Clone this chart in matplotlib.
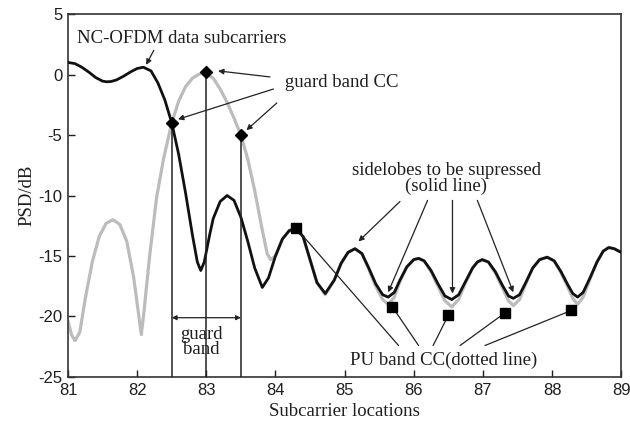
"""
NC-OFDM PSD with guard band and PU band cancellation carriers
"""
import matplotlib
matplotlib.use('Agg')
import matplotlib.pyplot as plt

plt.rcParams['axes.unicode_minus'] = False

# NC-OFDM data subcarriers (solid black)
black_x = [81.0, 81.1, 81.2, 81.3, 81.4, 81.5, 81.56, 81.62, 81.7, 81.8, 81.9, 82.0, 82.09,
           82.2, 82.3, 82.4, 82.5, 82.6, 82.7, 82.8, 82.87, 82.92, 82.97, 83.05, 83.1,
           83.2, 83.3, 83.4, 83.5, 83.6, 83.7, 83.81, 83.9, 84.0, 84.1, 84.2, 84.29,
           84.4, 84.5, 84.6, 84.72, 84.85, 84.95, 85.05, 85.15, 85.25, 85.35, 85.45,
           85.55, 85.63, 85.72, 85.8, 85.9, 86.0, 86.07, 86.15, 86.25, 86.35, 86.45,
           86.55, 86.65, 86.75, 86.85, 86.92, 86.99, 87.08, 87.18, 87.28, 87.37, 87.44,
           87.53, 87.62, 87.72, 87.82, 87.93, 88.03, 88.13, 88.23, 88.3, 88.37, 88.45,
           88.55, 88.65, 88.74, 88.82, 88.9, 89.0]
black_y = [1.0, 0.9, 0.6, 0.2, -0.25, -0.55, -0.6, -0.58, -0.45, -0.15, 0.2, 0.5, 0.6,
           0.3, -0.7, -2.1, -4.0, -6.6, -9.8, -13.3, -15.5, -16.2, -15.5, -13.2, -11.9,
           -10.5, -10.0, -10.4, -11.8, -13.8, -16.0, -17.6, -16.8, -15.0, -13.6, -12.9, -12.7,
           -13.4, -15.3, -17.2, -18.1, -17.0, -15.6, -14.7, -14.4, -14.8, -16.0, -17.3,
           -18.2, -18.4, -18.0, -17.0, -15.9, -15.3, -15.2, -15.4, -16.2, -17.3, -18.3,
           -18.6, -18.2, -17.1, -16.0, -15.5, -15.3, -15.5, -16.3, -17.4, -18.3, -18.5,
           -18.2, -17.2, -16.0, -15.3, -15.1, -15.4, -16.3, -17.4, -18.1, -18.4, -18.0,
           -16.8, -15.5, -14.6, -14.3, -14.4, -14.7]

# PU band CC spectrum (light grey)
gray_x = [81.0, 81.05, 81.1, 81.17, 81.25, 81.35, 81.45, 81.55, 81.65, 81.75, 81.85,
          81.95, 82.02, 82.06, 82.1, 82.18, 82.28, 82.38, 82.5, 82.6, 82.7, 82.8, 82.9,
          82.98, 83.1, 83.2, 83.3, 83.4, 83.5, 83.6, 83.7, 83.8, 83.88, 83.93, 84.0,
          84.1, 84.2, 84.29, 84.4, 84.5, 84.6, 84.72, 84.85, 84.95, 85.05, 85.15, 85.25,
          85.35, 85.45, 85.55, 85.63, 85.72, 85.8, 85.9, 86.0, 86.07, 86.15, 86.25,
          86.35, 86.45, 86.55, 86.65, 86.75, 86.85, 86.92, 86.99, 87.08, 87.18, 87.28,
          87.37, 87.44, 87.53, 87.62, 87.72, 87.82, 87.93, 88.03, 88.13, 88.23, 88.3,
          88.37, 88.45, 88.55, 88.65, 88.74, 88.82, 88.9, 89.0]
gray_y = [-20.4, -21.5, -22.0, -21.3, -18.5, -15.5, -13.4, -12.3, -12.0, -12.4, -13.8,
          -16.8, -19.8, -21.5, -19.5, -15.0, -10.2, -7.0, -4.0, -2.2, -1.0, -0.3, 0.05,
          0.1, -0.3, -1.2, -2.3, -3.6, -5.0, -7.0, -9.6, -12.6, -14.8, -15.3, -15.0,
          -13.6, -12.9, -12.7, -13.4, -15.3, -17.2, -18.2, -17.0, -15.6, -14.7, -14.4, -14.8,
          -16.1, -17.5, -18.6, -19.0, -18.4, -17.1, -15.9, -15.3, -15.2, -15.4, -16.3,
          -17.5, -18.7, -19.2, -18.6, -17.2, -16.0, -15.5, -15.3, -15.5, -16.4, -17.6,
          -18.7, -19.1, -18.6, -17.3, -16.0, -15.3, -15.1, -15.4, -16.4, -17.6, -18.5,
          -19.0, -18.4, -16.9, -15.5, -14.6, -14.3, -14.4, -14.7]

# guard band cancellation carriers
guard_x = [82.5, 83.0, 83.5]
guard_y = [-4.0, 0.2, -5.0]

# PU band cancellation carriers
pu_x = [84.3, 85.69, 86.5, 87.32, 88.28]
pu_y = [-12.7, -19.2, -19.9, -19.7, -19.5]

x_ticks = [81, 82, 83, 84, 85, 86, 87, 88, 89]
y_ticks = [5, 0, -5, -10, -15, -20, -25]

serif = ['Liberation Serif', 'DejaVu Serif']
sans = ['Liberation Sans', 'DejaVu Sans']
ink = '#1e1e1e'


def draw():
    fig = plt.figure(figsize=(6.3, 4.25), dpi=100)
    ax = fig.add_axes([0.108, 0.113, 0.878, 0.854])

    ax.plot(gray_x, gray_y, color='#bcbcbc', lw=2.3, solid_capstyle='round', zorder=2)
    ax.plot(black_x, black_y, color='#111111', lw=2.0, solid_capstyle='round', zorder=3)

    # guard band stems and markers
    for gx, gy in zip(guard_x, guard_y):
        ax.plot([gx, gx], [gy, -25], color='#222222', lw=1.1, zorder=4)
    ax.plot(guard_x, guard_y, 'D', color='black', ms=6.5, zorder=5)
    ax.plot(pu_x, pu_y, 's', color='black', ms=6.5, zorder=5)

    arrow = dict(arrowstyle='-|>', lw=0.9, color='#222222', mutation_scale=8,
                 shrinkA=0, shrinkB=0)
    line = dict(arrowstyle='-', lw=0.9, color='#222222', shrinkA=0, shrinkB=0)

    # guard band width
    ax.annotate('', xy=(82.5, -20.1), xytext=(83.5, -20.1),
                arrowprops=dict(arrowstyle='<|-|>', lw=0.9, color='#222222',
                                mutation_scale=7, shrinkA=0, shrinkB=0))
    ax.text(82.93, -22.1, 'guard\nband', ha='center', va='center', fontsize=13.5,
            family=serif, linespacing=0.85, color=ink)

    ax.text(81.13, 3.0, 'NC-OFDM data subcarriers', ha='left', va='center',
            fontsize=13.5, family=serif, color=ink)
    ax.annotate('', xy=(82.13, 0.8), xytext=(82.24, 2.0), arrowprops=arrow)

    ax.text(84.14, -0.7, 'guard band CC', ha='left', va='center',
            fontsize=13.5, family=serif, color=ink)
    ax.annotate('', xy=(83.17, 0.3), xytext=(83.92, -0.2), arrowprops=arrow)
    ax.annotate('', xy=(82.59, -3.7), xytext=(83.97, -1.2), arrowprops=arrow)
    ax.annotate('', xy=(83.58, -4.6), xytext=(84.02, -2.35), arrowprops=arrow)

    ax.text(86.47, -8.6, 'sidelobes to be supressed\n(solid line)', ha='center',
            va='center', fontsize=13.5, family=serif, linespacing=0.95, color=ink)
    ax.annotate('', xy=(85.2, -13.8), xytext=(85.8, -10.5), arrowprops=arrow)
    ax.annotate('', xy=(85.63, -18.0), xytext=(86.2, -10.4), arrowprops=arrow)
    ax.annotate('', xy=(86.56, -18.1), xytext=(86.56, -10.4), arrowprops=arrow)
    ax.annotate('', xy=(87.44, -18.0), xytext=(86.92, -10.4), arrowprops=arrow)

    ax.text(86.43, -23.6, 'PU band CC(dotted line)', ha='center', va='center',
            fontsize=13.5, family=serif, color=ink)
    ends = [85.78, 86.07, 86.28, 86.67, 87.03]
    for (px, py), ex in zip(zip(pu_x, pu_y), ends):
        ax.annotate('', xy=(px, py), xytext=(ex, -22.4), arrowprops=line)

    ax.set_xlim(81, 89)
    ax.set_ylim(-25, 5)
    ax.set_xticks(x_ticks)
    ax.set_yticks(y_ticks)
    ax.tick_params(direction='in', length=5, width=1.0, top=False, right=False,
                   labelsize=12, colors=ink, pad=4)
    for lab in ax.get_xticklabels() + ax.get_yticklabels():
        lab.set_family(sans)
    for sp in ax.spines.values():
        sp.set_linewidth(1.2)
        sp.set_color('#333333')

    ax.set_xlabel('Subcarrier locations', fontsize=13.5, family=serif, color=ink,
                  labelpad=4)
    ax.set_ylabel('PSD/dB', fontsize=13.5, family=serif, color=ink, labelpad=2)

    fig.savefig('out.png', dpi=100)


if __name__ == "__main__":
    draw()
